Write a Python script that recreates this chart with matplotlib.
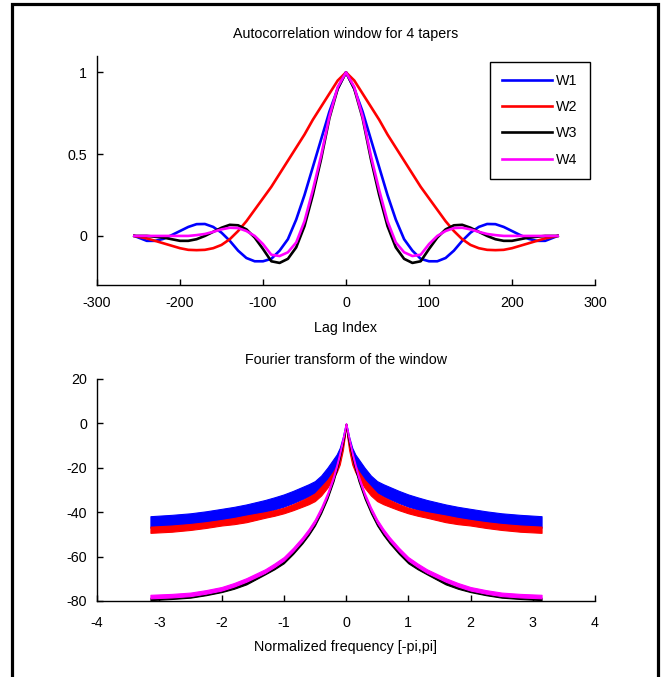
import numpy as np
import matplotlib
matplotlib.use("Agg")
import matplotlib.pyplot as plt
from matplotlib.patches import Rectangle

plt.rcParams['font.family'] = ['Liberation Sans', 'DejaVu Sans']
plt.rcParams['axes.unicode_minus'] = False

# ---------------- data: autocorrelation windows (symmetric, lag >= 0) ----------------
lags_pos = [0, 10, 20, 30, 40, 50, 60, 70, 80, 90, 100, 110, 120, 130, 140, 150,
            160, 170, 180, 190, 200, 210, 220, 230, 240, 255]
w1_pos = [1.0, 0.90, 0.76, 0.59, 0.42, 0.25, 0.10, -0.02, -0.09, -0.14, -0.155, -0.155,
          -0.135, -0.09, -0.03, 0.02, 0.055, 0.073, 0.072, 0.055, 0.03, 0.005, -0.018,
          -0.03, -0.03, 0.0]
w2_pos = [1.0, 0.95, 0.87, 0.79, 0.71, 0.62, 0.54, 0.46, 0.38, 0.30, 0.23, 0.16, 0.09,
          0.03, -0.02, -0.055, -0.075, -0.085, -0.087, -0.085, -0.075, -0.06, -0.045,
          -0.03, -0.015, 0.0]
w3_pos = [1.0, 0.90, 0.72, 0.47, 0.25, 0.06, -0.07, -0.14, -0.165, -0.155, -0.08, -0.01,
          0.04, 0.065, 0.068, 0.05, 0.025, 0.0, -0.02, -0.03, -0.03, -0.02, -0.01,
          -0.005, 0.0, 0.0]
w4_pos = [1.0, 0.91, 0.73, 0.49, 0.28, 0.09, -0.04, -0.10, -0.123, -0.115, -0.05, 0.0,
          0.03, 0.048, 0.05, 0.04, 0.025, 0.012, 0.005, 0.0, 0.0, 0.0, 0.0, 0.0, 0.0, 0.0]

# ---------------- data: Fourier transform envelopes in dB (symmetric, f >= 0) ----------------
freq_pos = [0, 0.02, 0.05, 0.1, 0.15, 0.2, 0.3, 0.4, 0.5, 0.6, 0.7, 0.85, 1.0, 1.15, 1.3,
            1.6, 1.8, 2.0, 2.25, 2.5, 2.8, 3.1416]
f1_hi = [0, -2, -6, -11, -14, -16, -20, -23.5, -26, -27.4, -28.6, -30.4, -32, -33.3, -34.5,
         -36.5, -37.6, -38.5, -39.6, -40.5, -41.2, -41.8]
f1_lo = [0, -5, -10, -16, -19, -21.5, -25.5, -29, -31.5, -32.9, -34.1, -35.9, -37.5, -38.8,
         -40, -42, -43.1, -44, -45.1, -46, -46.6, -47]
f2_hi = [0, -4, -9, -15, -19, -21.5, -25.5, -28.5, -31.5, -33.1, -34.5, -36.4, -38, -39.1,
         -40, -41.5, -42.6, -43.5, -44.5, -45.3, -46, -46.5]
f2_lo = [0, -6, -12, -18.5, -22, -24.5, -29, -32.5, -35, -36.4, -37.5, -39.1, -40.5, -41.6,
         -42.5, -44.5, -45.4, -46, -47.1, -48, -48.8, -49.3]
f3_hi = [0, -3.5, -7.5, -14, -19.5, -24.5, -32.5, -39, -44.5, -48.8, -52.5, -57.3, -61.5,
         -64.2, -66.5, -71, -73.2, -75, -76.3, -77.3, -78, -78.5]
f3_lo = [0, -5, -9, -15.5, -21, -26, -34, -40.5, -46, -50.3, -54, -58.8, -63, -65.7, -68,
         -72.5, -74.5, -76, -77.4, -78.5, -79.1, -79.6]
f4_hi = [0, -2.2, -6.2, -12.7, -18.2, -23.2, -31.2, -37.7, -43.2, -47.5, -51.2, -56, -60.2,
         -63.1, -65.7, -69.7, -71.9, -73.7, -75.1, -76.2, -76.8, -77.2]
f4_lo = [0, -3.8, -7.8, -14.3, -19.8, -24.8, -32.8, -39.3, -44.8, -49.1, -52.8, -57.6, -61.8,
         -64.7, -67.3, -71.3, -73.5, -75.3, -76.7, -77.8, -78.4, -78.8]

labels = ['W1', 'W2', 'W3', 'W4']
colors = ['#0000ff', '#ff0000', '#000000', '#ff00ff']


def mirror_x(pos):
    a = np.asarray(pos, dtype=float)
    return np.concatenate([-a[::-1], a[1:]])


def mirror_y(pos):
    a = np.asarray(pos, dtype=float)
    return np.concatenate([a[::-1], a[1:]])


fig = plt.figure(figsize=(6.71, 6.77), dpi=100)

# outer frame
fig.patches.append(Rectangle((11.5 / 671, -0.02), (657.5 - 11.5) / 671, 1.02 - 4.5 / 677,
                             transform=fig.transFigure, fill=False, edgecolor='black',
                             linewidth=2.3, zorder=10))

fs = 10.3

# ---------------- top axes ----------------
ax1 = fig.add_axes([97 / 671, 1 - 285 / 677, 498 / 671, 229 / 677])
lag = mirror_x(lags_pos)
for vals, lab, col in zip([w1_pos, w2_pos, w3_pos, w4_pos], labels, colors):
    ax1.plot(lag, mirror_y(vals), color=col, lw=1.9, label=lab)
ax1.set_xlim(-300, 300)
ax1.set_ylim(-0.3, 1.1)
ax1.set_xticks([-300, -200, -100, 0, 100, 200, 300])
ax1.set_yticks([0, 0.5, 1])
ax1.set_yticklabels(['0', '0.5', '1'])
ax1.set_title('Autocorrelation window for 4 tapers', fontsize=fs, pad=13)
ax1.set_xlabel('Lag Index', fontsize=fs, labelpad=8)
leg = ax1.legend(loc='upper right', bbox_to_anchor=(590 / 671, 1 - 62 / 677),
                 bbox_transform=fig.transFigure, borderaxespad=0, fontsize=fs,
                 handlelength=3.5, labelspacing=0.85, handletextpad=0.3,
                 borderpad=0.85, fancybox=False, framealpha=1, edgecolor='black')
leg.get_frame().set_linewidth(1.0)

# ---------------- bottom axes ----------------
ax2 = fig.add_axes([97 / 671, 1 - 601 / 677, 498 / 671, 222 / 677])
fq = mirror_x(freq_pos)
for hi, lo, col, z in [(f1_hi, f1_lo, colors[0], 2), (f2_hi, f2_lo, colors[1], 3),
                       (f3_hi, f3_lo, colors[2], 4), (f4_hi, f4_lo, colors[3], 5)]:
    ax2.fill_between(fq, mirror_y(lo), mirror_y(hi), color=col, lw=0.8, edgecolor=col, zorder=z)
ax2.set_xlim(-4, 4)
ax2.set_ylim(-80, 20)
ax2.set_xticks(range(-4, 5))
ax2.set_yticks(range(-80, 21, 20))
ax2.set_title('Fourier transform of the window', fontsize=fs, pad=11)
ax2.set_xlabel('Normalized frequency [-pi,pi]', fontsize=fs, labelpad=7)

for ax in (ax1, ax2):
    for s in ('top', 'right'):
        ax.spines[s].set_visible(False)
    for s in ('left', 'bottom'):
        ax.spines[s].set_linewidth(1.0)
    ax.tick_params(direction='in', length=4, width=1.0, labelsize=fs, pad=7,
                   top=False, right=False)
ax1.tick_params(axis='x', pad=8)
ax2.tick_params(axis='x', pad=11)

fig.savefig('out.png', dpi=100)
